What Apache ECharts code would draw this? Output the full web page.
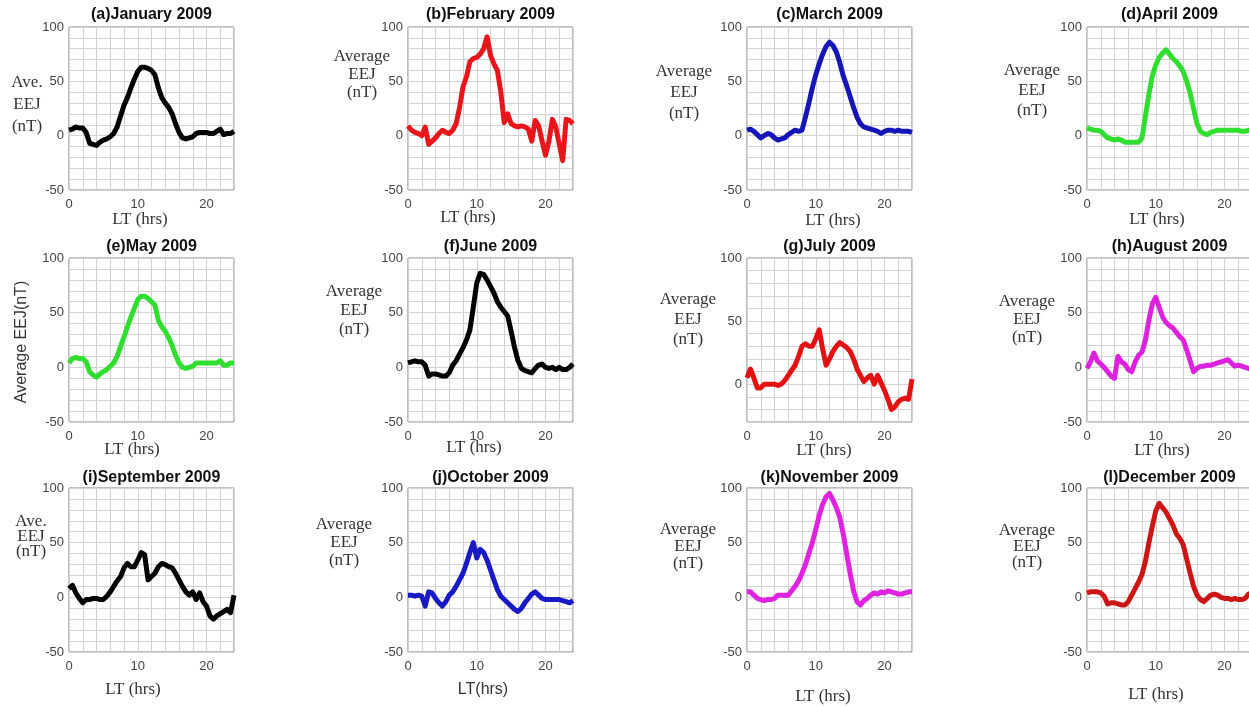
<!DOCTYPE html>
<html><head><meta charset="utf-8">
<script src="https://cdn.jsdelivr.net/npm/echarts@6/dist/echarts.min.js"></script>
<style>html,body{margin:0;padding:0;background:#fff}#c{width:1249px;height:706px}</style>
</head><body><div id="c"></div>
<script>
// Local time (hours)
const LT = [0,0.5,1,1.5,2,2.5,3,3.5,4,4.5,5,5.5,6,6.5,7,7.5,8,8.5,9,9.5,10,10.5,11,11.5,12,12.5,13,13.5,14,14.5,15,15.5,16,16.5,17,17.5,18,18.5,19,19.5,20,20.5,21,21.5,22,22.5,23,23.5,24];
// Average EEJ (nT) per month
const jan = [5,6,8,7,7,3,-7,-8,-9,-6,-4,-3,-1,2,8,18, 28,35,44,52,59,63,63,62,60,56,44,35,30,26,20,11, 3,-2,-3,-2,-1,2,3,3,3,2,2,4,6,1,2,2,4];
const feb = [9,5,3,2,0,8,-8,-5,-2,2,5,3,2,5,11,26, 45,54,68,71,72,75,80,91,74,66,60,40,12,20,11,9, 8,9,8,6,-5,14,9,-5,-18,-5,15,8,-8,-23,15,14,11];
const mar = [5,6,4,1,-2,0,2,1,-2,-4,-3,-2,1,3,5,4, 5,17,30,44,56,66,75,82,86,83,77,67,55,46,36,26, 17,11,8,7,6,5,4,2,4,5,5,4,5,4,4,4,3];
const apr = [7,6,5,5,4,1,-2,-3,-4,-3,-4,-6,-6,-6,-6,-6, -2,18,38,55,65,72,76,79,75,71,68,64,59,50,39,25, 11,4,2,1,3,4,5,5,5,5,5,5,5,4,4,5,5];
const may = [4,8,9,8,8,5,-4,-7,-9,-6,-4,-2,1,4,10,19, 28,37,46,54,62,65,65,63,60,57,43,37,33,27,20,11, 4,0,-1,0,1,4,4,4,4,4,4,4,6,2,2,4,4];
const jun = [4,5,6,5,5,2,-8,-6,-6,-7,-8,-8,-5,2,6,12, 18,25,34,55,77,86,85,80,74,68,60,55,51,47,33,18, 6,-1,-3,-4,-5,-1,2,3,0,-1,0,-2,0,-2,-2,0,3];
const jul = [5,12,5,-3,-3,0,0,0,0,-1,0,3,7,11,15,22, 30,32,30,30,36,43,28,15,20,26,30,33,31,29,26,20, 12,7,2,5,7,0,7,1,-5,-12,-20,-18,-14,-12,-11,-12,4];
const aug = [-1,5,13,6,3,0,-4,-8,-10,10,5,3,-2,-4,5,11, 14,25,43,58,64,55,46,41,38,36,32,28,25,16,6,-4, -1,1,1,2,2,3,4,5,6,7,4,1,2,1,0,-1,-2];
const sep = [8,11,4,-1,-5,-2,-2,-1,-1,-2,-2,1,5,10,15,19, 27,31,28,28,34,41,39,16,19,22,28,31,30,28,27,22, 16,10,5,2,5,-2,4,-4,-8,-17,-20,-17,-15,-13,-11,-14,2];
const oct = [2,2,1,2,1,-8,5,4,-1,-5,-8,-4,2,5,10,16, 22,31,41,50,36,44,41,34,25,16,7,1,-2,-5,-8,-11, -13,-10,-5,-1,3,5,2,-1,-2,-2,-2,-2,-2,-3,-4,-5,-3];
const nov = [5,5,2,-1,-2,-3,-2,-2,-1,2,2,2,2,6,10,15, 22,30,40,50,62,75,85,92,95,89,82,73,58,40,22,6, -4,-7,-3,-1,2,4,3,5,4,6,5,4,3,3,4,5,5];
const dec = [4,5,5,5,4,1,-6,-5,-5,-6,-7,-7,-4,2,8,14, 21,33,50,65,79,86,82,78,72,66,58,54,48,35,22,10, 2,-2,-4,-1,2,3,2,0,-1,-1,-2,-1,-2,-2,-1,3,4];

const months = [jan,feb,mar,apr,may,jun,jul,aug,sep,oct,nov,dec];
const titles = ['(a)January 2009','(b)February 2009','(c)March 2009','(d)April 2009','(e)May 2009','(f)June 2009','(g)July 2009','(h)August 2009','(i)September 2009','(j)October 2009','(k)November 2009','(l)December 2009'];
const yMins = [-50,-50,-50,-50,-50,-50,-30,-50,-50,-50,-50,-50];
const yMax = 100;
const xTickLabels = [0,10,20];
const yTickLabels = [-50,0,50,100];
const yLabelTexts = [
  ['Ave.','EEJ','(nT)'],['Average','EEJ','(nT)'],['Average','EEJ','(nT)'],['Average','EEJ','(nT)'],
  ['Average EEJ(nT)'],['Average','EEJ','(nT)'],['Average','EEJ','(nT)'],['Average','EEJ','(nT)'],
  ['Ave.','EEJ','(nT)'],['Average','EEJ','(nT)'],['Average','EEJ','(nT)'],['Average','EEJ','(nT)']
];
const xLabelTexts = ['LT (hrs)','LT (hrs)','LT (hrs)','LT (hrs)','LT (hrs)','LT (hrs)','LT (hrs)','LT (hrs)','LT (hrs)','LT(hrs)','LT (hrs)','LT (hrs)'];

// ---- layout / style (not data) ----
const colors = ['#000000','#e8161a','#1616b8','#30de30','#30de30','#000000','#e31212','#dd22dd','#000000','#1a1ac4','#e022e0','#cc1616'];
const colLeft = [69,408,747,1087];
const rowTop = [27,258,488];
const rowH = [163,164,164];
const plotW = 165;
const yLabPos = [ // [centerX, firstLineY, lineSpacing]
  [27,83,22],[362,57,18],[684,72,21],[1032,71,20],
  [22,342,0],[354,292,19],[688,300,20],[1027,302,18],
  [31,522,15],[344,525,18],[688,530,17],[1027,531,16]
];
const xLabPos = [[140,220],[468,218],[833,221],[1157,220],[132,450],[474,448],[824,451],[1162,451],[133,690],[483,690],[823,697],[1156,695]];
const titleY = [15,247,478];

const grids=[], xAxes=[], yAxes=[], series=[], graphic=[];
const tickFont = {fontFamily:'Liberation Sans', fontSize:13, color:'#444'};
for (let i=0;i<12;i++){
  const r=Math.floor(i/4), c=i%4;
  const left=colLeft[c], top=rowTop[r], h=rowH[r];
  grids.push({left:left, top:top, width:plotW, height:h, show:true, borderColor:'#808080', borderWidth:1, backgroundColor:'#fff', outerBoundsMode:'none', containLabel:false});
  xAxes.push({type:'value', gridIndex:i, min:0, max:24, interval:2,
    axisLine:{show:false}, axisTick:{show:false},
    axisLabel:Object.assign({margin:8, formatter:v=>xTickLabels.includes(v)?String(v):''}, tickFont),
    splitLine:{show:true, lineStyle:{color:'#d2d2d2', width:1}}});
  yAxes.push({type:'value', gridIndex:i, min:yMins[i], max:yMax, interval:10,
    axisLine:{show:false}, axisTick:{show:false},
    axisLabel:Object.assign({margin:5, formatter:v=>yTickLabels.includes(v)?String(v):''}, tickFont),
    splitLine:{show:true, lineStyle:{color:'#d2d2d2', width:1}}});
  series.push({type:'line', xAxisIndex:i, yAxisIndex:i, showSymbol:false, animation:false,
    data: LT.map((t,k)=>[t, months[i][k]]),
    lineStyle:{color:colors[i], width:5, join:'round'}, itemStyle:{color:colors[i]}});
  // title
  graphic.push({type:'text', x:left+plotW/2, y:titleY[r], silent:true,
    style:{text:titles[i], font:'bold 16px "Liberation Sans"', fill:'#111', textAlign:'center', textVerticalAlign:'middle', verticalAlign:'middle'}});
  // y label
  const p=yLabPos[i];
  if (i===4){
    graphic.push({type:'text', x:p[0], y:p[1], rotation:Math.PI/2, silent:true,
      style:{text:yLabelTexts[i][0], font:'16px "Liberation Sans"', fill:'#333', textAlign:'center', textVerticalAlign:'middle', verticalAlign:'middle'}});
  } else {
    yLabelTexts[i].forEach((t,k)=>{
      graphic.push({type:'text', x:p[0], y:p[1]+k*p[2], silent:true,
        style:{text:t, font:'17px "Liberation Serif"', fill:'#333', textAlign:'center', textVerticalAlign:'middle', verticalAlign:'middle'}});
    });
  }
  // x label
  const q=xLabPos[i];
  graphic.push({type:'text', x:q[0], y:q[1], silent:true,
    style:{text:xLabelTexts[i], font: i===9 ? '16px "Liberation Sans"' : '17px "Liberation Serif"', fill:'#333', textAlign:'center', textVerticalAlign:'middle', verticalAlign:'middle'}});
}

const chart = echarts.init(document.getElementById('c'), null, {renderer:'canvas', width:1249, height:706});
chart.setOption({animation:false, backgroundColor:'#fff', grid:grids, xAxis:xAxes, yAxis:yAxes, series:series, graphic:graphic});
</script></body></html>
